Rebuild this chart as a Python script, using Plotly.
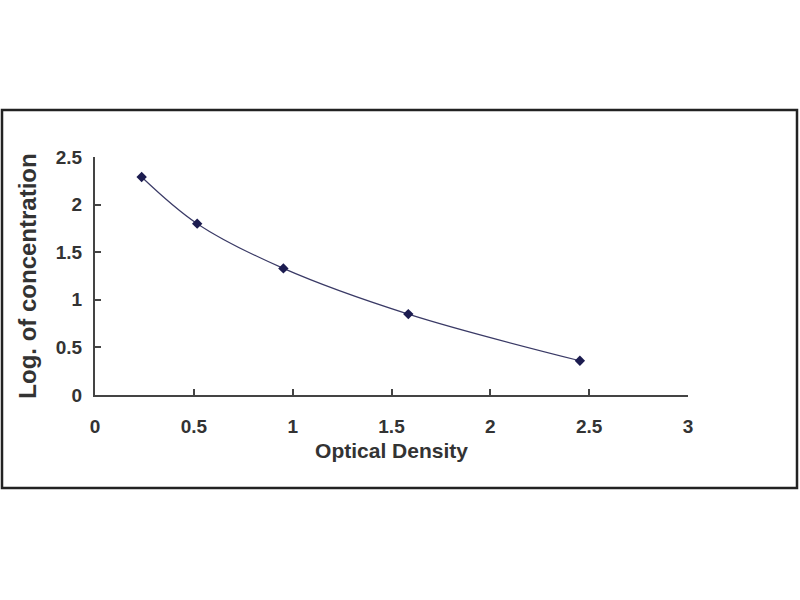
import plotly.graph_objects as go

# standard curve points
optical_density = [0.236, 0.517, 0.953, 1.585, 2.453]
log_concentration = [2.29, 1.80, 1.33, 0.85, 0.36]

x_ticks = [0, 0.5, 1, 1.5, 2, 2.5, 3]
x_ticklabels = ['0', '0.5', '1', '1.5', '2', '2.5', '3']
y_ticks = [0, 0.5, 1, 1.5, 2, 2.5]
y_ticklabels = ['0', '0.5', '1', '1.5', '2', '2.5']

font_family = 'Liberation Sans, Arial, sans-serif'
axis_color = '#444444'
text_color = '#333333'

fig = go.Figure()
fig.add_trace(go.Scatter(
    x=optical_density,
    y=log_concentration,
    mode='lines+markers',
    line=dict(color='#3a3a66', width=1.2, shape='spline', smoothing=1.0),
    marker=dict(symbol='diamond', size=8, color='#1c1c50'),
    showlegend=False,
))

# plot area in pixels: x 95..688, y 157..395
left, right, top, bottom = 95, 688, 157, 395
pw, ph = right - left, bottom - top

fig.update_layout(
    width=800, height=600,
    margin=dict(l=left, r=800 - right, t=top, b=600 - bottom),
    paper_bgcolor='white', plot_bgcolor='white',
    font=dict(family=font_family, color=text_color),
    xaxis=dict(
        range=[0, 3], tickvals=x_ticks, ticktext=x_ticklabels,
        showgrid=False, zeroline=False,
        showline=True, linecolor=axis_color, linewidth=2,
        ticks='inside', ticklen=6, tickwidth=2, tickcolor=axis_color,
        tickfont=dict(size=19, family=font_family, color=text_color, weight='bold'),
        ticklabelstandoff=13,
        title=dict(text='<b>Optical Density</b>', standoff=8,
                   font=dict(size=21, family=font_family, color=text_color)),
    ),
    yaxis=dict(
        range=[0, 2.5], tickvals=y_ticks, ticktext=y_ticklabels,
        showgrid=False, zeroline=False,
        showline=True, linecolor=axis_color, linewidth=2,
        ticks='inside', ticklen=6, tickwidth=2, tickcolor=axis_color,
        tickfont=dict(size=19, family=font_family, color=text_color, weight='bold'),
        ticklabelstandoff=7,
        title=dict(text='<b>Log. of concentration</b>', standoff=12,
                   font=dict(size=24, family=font_family, color=text_color)),
    ),
)

# outer frame around the whole chart (pixels 2..797 x 110..488)
fig.add_shape(
    type='rect', xref='paper', yref='paper',
    x0=(2 - left) / pw, x1=(797 - left) / pw,
    y0=(bottom - 488) / ph, y1=(bottom - 110) / ph,
    line=dict(color='#222222', width=2.5),
)

# drop the browser's default page margin so the figure sits at the window corner
fig.write_html('out.html', config={'displayModeBar': False},
               post_script="document.body.style.margin='0';")
